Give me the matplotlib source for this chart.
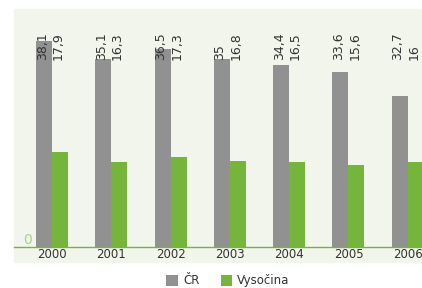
import matplotlib.pyplot as plt
import numpy as np
from matplotlib.patches import Rectangle

years = ["2000", "2001", "2002", "2003", "2004", "2005", "2006"]
# bar heights as drawn in the picture
cr_values = [38.1, 34.9, 36.7, 34.8, 33.7, 32.4, 28.0]
vys_values = [17.6, 15.7, 16.7, 15.9, 15.7, 15.2, 15.7]
# value labels as printed above the bars
cr_labels = ["38,1", "35,1", "36,5", "35", "34,4", "33,6", "32,7"]
vys_labels = ["17,9", "16,3", "17,3", "16,8", "16,5", "15,6", "16"]

gray = "#919191"
green = "#76b53c"
panel = "#f2f5ec"
text_col = "#333333"

plt.rcParams['font.family'] = ['Liberation Sans Narrow', 'DejaVu Sans']

fig = plt.figure(figsize=(4.22, 2.88), dpi=100)
fig.patches.append(Rectangle((14 / 422, 26 / 288), 408 / 422, 253 / 288,
                             transform=fig.transFigure, color=panel, zorder=-1))

ax = fig.add_axes([14 / 422, 41 / 288, 408 / 422, 238 / 288])
ax.set_facecolor("none")

x = np.arange(len(years))
w = 0.27
ax.bar(x - w / 2, cr_values, w, color=gray, label="ČR")
ax.bar(x + w / 2, vys_values, w, color=green, label="Vysočina")

for i in range(len(years)):
    ax.text(x[i] - w / 2 - 0.03, 34.6, cr_labels[i], rotation=90, ha="center",
            va="bottom", fontsize=9, color=text_col)
    ax.text(x[i] + w / 2 - 0.03, 34.6, vys_labels[i], rotation=90, ha="center",
            va="bottom", fontsize=9, color=text_col)

ax.set_xlim(-0.64, 6.24)
ax.set_ylim(0, 44.1)
ax.set_xticks(x)
ax.set_xticklabels(years, fontsize=8.5, color=text_col)
ax.set_yticks([0])
ax.set_yticklabels(["0"], fontsize=10, color="#a6d47a")
ax.tick_params(axis="both", length=0, pad=1)
ax.tick_params(axis="y", pad=-13)
for t in ax.get_yticklabels():
    t.set_verticalalignment("bottom")
for s in ["top", "right", "left"]:
    ax.spines[s].set_visible(False)
ax.spines["bottom"].set_color(green)
ax.spines["bottom"].set_linewidth(1)

fig.legend(loc="lower center", bbox_to_anchor=(0.54, -0.035), ncol=2, frameon=False,
           fontsize=8.5, handlelength=1.0, handleheight=1.0, columnspacing=1.8,
           handletextpad=0.4, labelcolor=text_col)

fig.savefig("out.png", dpi=100)
